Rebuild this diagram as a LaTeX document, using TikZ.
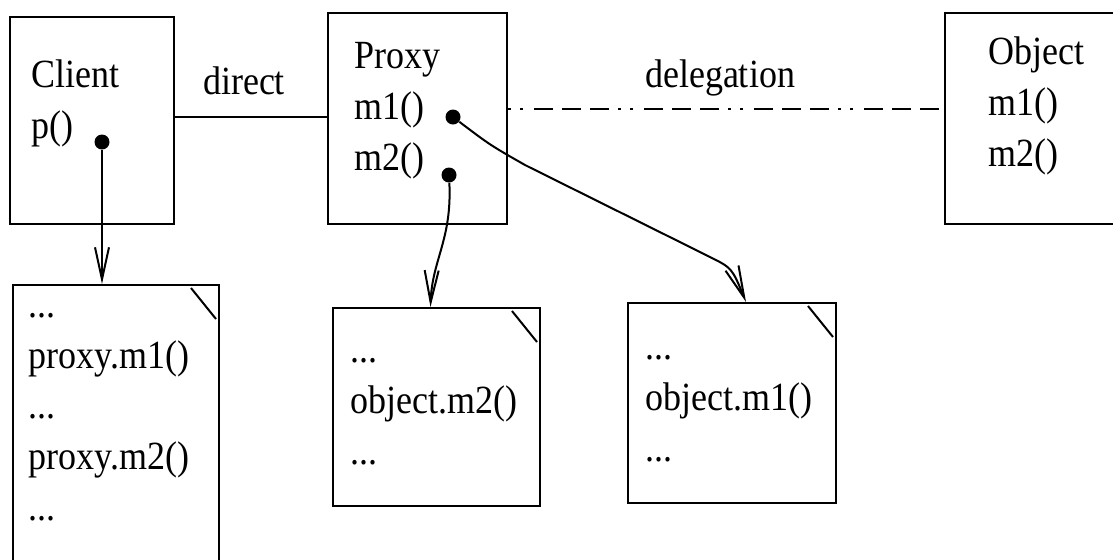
\documentclass[tikz,border=0pt]{standalone}
\usepackage{fontspec}
\setmainfont{Liberation Serif}[FakeStretch=0.9]
\usetikzlibrary{arrows.meta,fit,positioning}

\begin{document}
\begin{tikzpicture}[x=0.5pt,y=-0.5pt,
  box/.style={draw,line width=1pt,inner sep=0pt},
  txt/.style={align=left,anchor=base west,inner sep=0pt,
              font=\fontsize{20}{25.3}\selectfont},
  lbl/.style={anchor=base,inner sep=0pt,font=\fontsize{20}{24}\selectfont},
  dot/.style={circle,fill,inner sep=0pt,minimum size=7.5pt},
  arr/.style={-{Straight Barb[length=16pt,width=7pt]},line width=1pt},
  deleg/.style={line width=1pt,dash pattern=on 1.5pt off 4.5pt on 1.5pt off 5.5pt
                on 9.5pt off 4.5pt on 9.5pt off 4.5pt on 9.5pt off 4.5pt}]
  \useasboundingbox (0,0) rectangle (1113,559);
  \clip (0,0) rectangle (1113,559);
  % objects
  \node[box,fit={(10,17) (174,224)}]   (client) {};
  \node[box,fit={(328,13) (507,224)}]  (proxy)  {};
  \node[box,fit={(945,13) (1140,224)}] (object) {};
  \node[txt] (clienttxt) at (31,138)  {Client\\p()};
  \node[txt] (proxytxt)  at (354,170) {Proxy\\m1()\\m2()};
  \node[txt] (objecttxt) at (988,166) {Object\\m1()\\m2()};
  % code notes
  \node[box,fit={(13,285) (219,580)}]  (note1) {};
  \node[box,fit={(333,308) (540,506)}] (note2) {};
  \node[box,fit={(628,303) (836,503)}] (note3) {};
  \node[txt] (note1txt) at (28,520)  {...\\proxy.m1()\\...\\proxy.m2()\\...};
  \node[txt] (note2txt) at (350,464) {...\\object.m2()\\...};
  \node[txt] (note3txt) at (645,461) {...\\object.m1()\\...};
  \draw[line width=1pt] ([shift={(-29,4)}]note1.north east) -- ([shift={(-4,35)}]note1.north east);
  \draw[line width=1pt] ([shift={(-29,4)}]note2.north east) -- ([shift={(-4,35)}]note2.north east);
  \draw[line width=1pt] ([shift={(-29,4)}]note3.north east) -- ([shift={(-4,35)}]note3.north east);
  % links and calls
  \node[dot] (cdot)  at (102,142) {};
  \node[dot] (m1dot) at (453,117) {};
  \node[dot] (m2dot) at (449,175) {};
  \draw[line width=1pt] (client.east |- m1dot) -- (proxy.west |- m1dot);
  \node[lbl] (directtxt) at (244,94) {direct};
  \draw[deleg] ([yshift=5pt]proxy.east |- object.west) -- ([yshift=5pt]object.west);
  \node[lbl] (delegtxt) at (720,87) {delegation};
  \draw[arr] (cdot) -- (cdot |- note1.north);
  \draw[arr] (m2dot) .. controls (452,240) and (432,260) .. ([xshift=-3pt]note2.north);
  \coordinate (turn) at (525,165);
  \coordinate (bend) at (710,257);
  \draw[arr] (m1dot) .. controls (490,145) .. (turn) -- (bend)
    .. controls (732,268) .. ([xshift=7pt]note3.north);
\end{tikzpicture}
\end{document}
